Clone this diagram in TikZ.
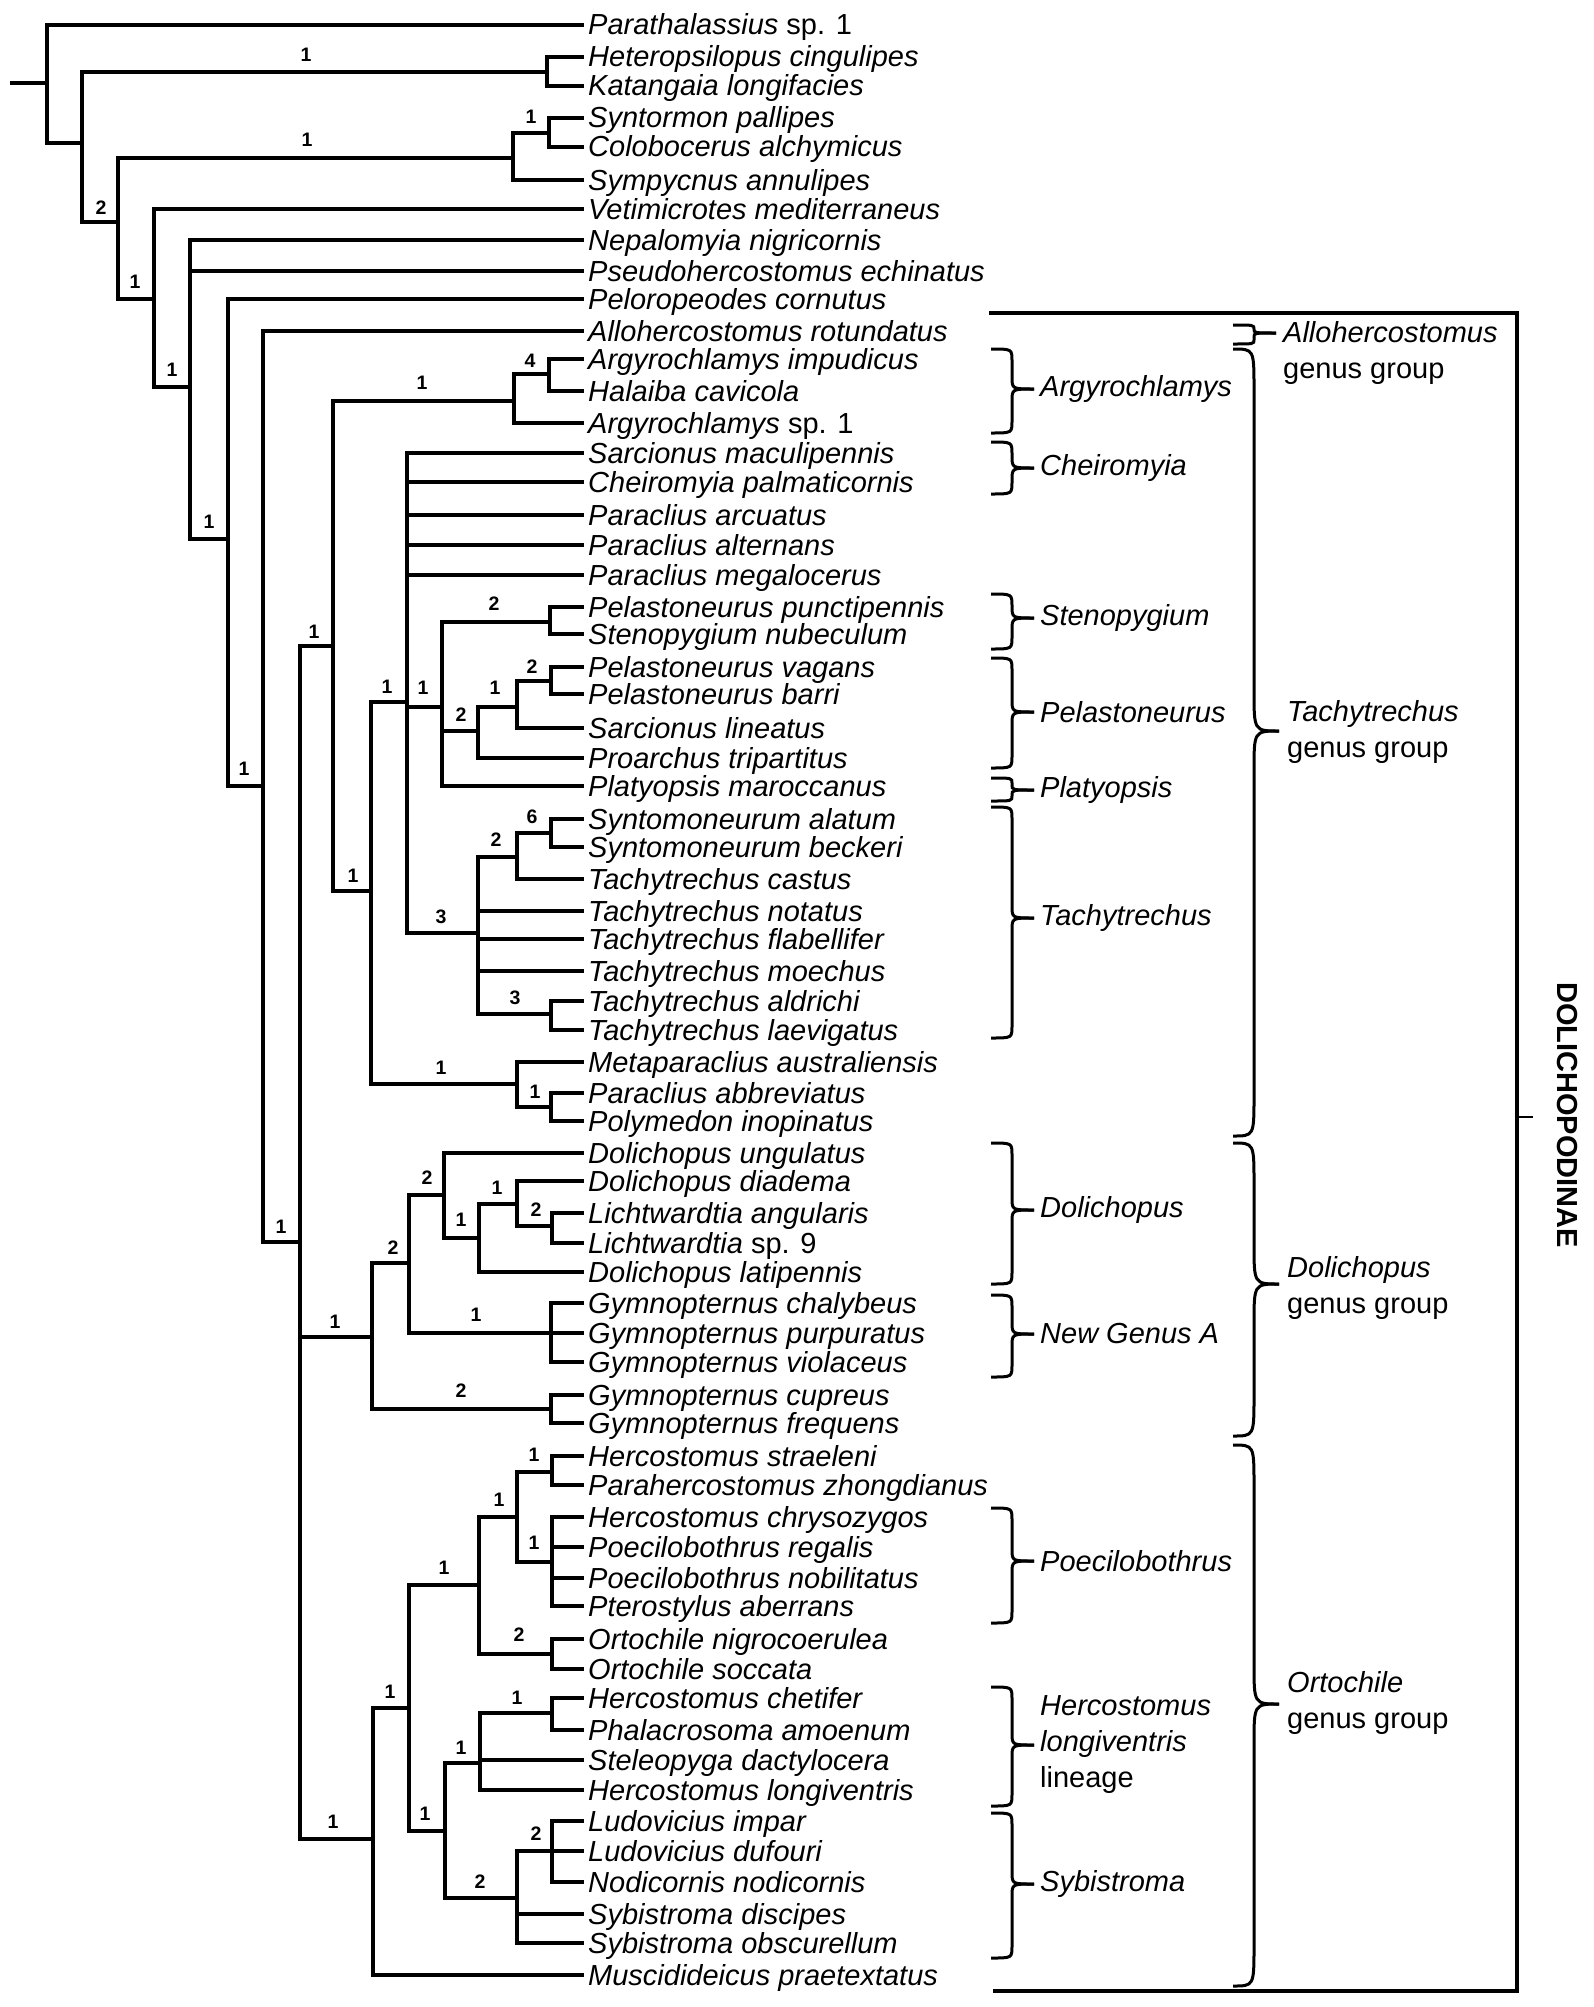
\documentclass[tikz,border=0pt]{standalone}
\usepackage{fontspec}
\setmainfont{Liberation Sans}

% 花括号: 样式, 左端x, 竖线x, 尖端x, 上端y, 尖端y, 下端y, 弯曲长度
\newcommand{\clbrace}[8]{%
  \draw[#1] (#2,#5) .. controls (#3,#5) .. (#3,{#5+#8}) -- (#3,{#6-#8}) .. controls (#3,#6) .. (#4,#6);
  \draw[#1] (#2,#7) .. controls (#3,#7) .. (#3,{#7-#8}) -- (#3,{#6+#8}) .. controls (#3,#6) .. (#4,#6);
}

\begin{document}
\begin{tikzpicture}[x=1pt, y=-1pt,
    branch/.style={line width=3.5pt},
    taxon/.style={anchor=west, inner xsep=4pt, inner ysep=0pt, text height=22pt, text depth=2pt,
        font=\fontsize{29}{34}\selectfont\itshape},
    supp/.style={inner sep=0pt, font=\fontsize{19.5}{19.5}\selectfont\bfseries},
    grp/.style={anchor=west, inner sep=0pt, align=left, font=\fontsize{29}{36}\selectfont},
    brk/.style={line width=3pt}]

    \useasboundingbox (0,0) rectangle (1594,2007);

    % 1. 物种名 (叶节点)
    \node[taxon] (t0) at (584,25) {Parathalassius \textup{sp. 1}};
    \node[taxon] (t1) at (584,57) {Heteropsilopus cingulipes};
    \node[taxon] (t2) at (584,86) {Katangaia longifacies};
    \node[taxon] (t3) at (584,118) {Syntormon pallipes};
    \node[taxon] (t4) at (584,147) {Colobocerus alchymicus};
    \node[taxon] (t5) at (584,180) {Sympycnus annulipes};
    \node[taxon] (t6) at (584,209) {Vetimicrotes mediterraneus};
    \node[taxon] (t7) at (584,240) {Nepalomyia nigricornis};
    \node[taxon] (t8) at (584,271) {Pseudohercostomus echinatus};
    \node[taxon] (t9) at (584,299) {Peloropeodes cornutus};
    \node[taxon] (t10) at (584,331) {Allohercostomus rotundatus};
    \node[taxon] (t11) at (584,359) {Argyrochlamys impudicus};
    \node[taxon] (t12) at (584,391) {Halaiba cavicola};
    \node[taxon] (t13) at (584,423) {Argyrochlamys \textup{sp. 1}};
    \node[taxon] (t14) at (584,453) {Sarcionus maculipennis};
    \node[taxon] (t15) at (584,482) {Cheiromyia palmaticornis};
    \node[taxon] (t16) at (584,515) {Paraclius arcuatus};
    \node[taxon] (t17) at (584,545) {Paraclius alternans};
    \node[taxon] (t18) at (584,575) {Paraclius megalocerus};
    \node[taxon] (t19) at (584,607) {Pelastoneurus punctipennis};
    \node[taxon] (t20) at (584,634) {Stenopygium nubeculum};
    \node[taxon] (t21) at (584,667) {Pelastoneurus vagans};
    \node[taxon] (t22) at (584,694) {Pelastoneurus barri};
    \node[taxon] (t23) at (584,728) {Sarcionus lineatus};
    \node[taxon] (t24) at (584,758) {Proarchus tripartitus};
    \node[taxon] (t25) at (584,786) {Platyopsis maroccanus};
    \node[taxon] (t26) at (584,819) {Syntomoneurum alatum};
    \node[taxon] (t27) at (584,847) {Syntomoneurum beckeri};
    \node[taxon] (t28) at (584,879) {Tachytrechus castus};
    \node[taxon] (t29) at (584,911) {Tachytrechus notatus};
    \node[taxon] (t30) at (584,939) {Tachytrechus flabellifer};
    \node[taxon] (t31) at (584,971) {Tachytrechus moechus};
    \node[taxon] (t32) at (584,1001) {Tachytrechus aldrichi};
    \node[taxon] (t33) at (584,1030) {Tachytrechus laevigatus};
    \node[taxon] (t34) at (584,1062) {Metaparaclius australiensis};
    \node[taxon] (t35) at (584,1093) {Paraclius abbreviatus};
    \node[taxon] (t36) at (584,1121) {Polymedon inopinatus};
    \node[taxon] (t37) at (584,1153) {Dolichopus ungulatus};
    \node[taxon] (t38) at (584,1181) {Dolichopus diadema};
    \node[taxon] (t39) at (584,1213) {Lichtwardtia angularis};
    \node[taxon] (t40) at (584,1243) {Lichtwardtia \textup{sp. 9}};
    \node[taxon] (t41) at (584,1272) {Dolichopus latipennis};
    \node[taxon] (t42) at (584,1303) {Gymnopternus chalybeus};
    \node[taxon] (t43) at (584,1333) {Gymnopternus purpuratus};
    \node[taxon] (t44) at (584,1362) {Gymnopternus violaceus};
    \node[taxon] (t45) at (584,1395) {Gymnopternus cupreus};
    \node[taxon] (t46) at (584,1423) {Gymnopternus frequens};
    \node[taxon] (t47) at (584,1456) {Hercostomus straeleni};
    \node[taxon] (t48) at (584,1485) {Parahercostomus zhongdianus};
    \node[taxon] (t49) at (584,1517) {Hercostomus chrysozygos};
    \node[taxon] (t50) at (584,1547) {Poecilobothrus regalis};
    \node[taxon] (t51) at (584,1578) {Poecilobothrus nobilitatus};
    \node[taxon] (t52) at (584,1606) {Pterostylus aberrans};
    \node[taxon] (t53) at (584,1639) {Ortochile nigrocoerulea};
    \node[taxon] (t54) at (584,1669) {Ortochile soccata};
    \node[taxon] (t55) at (584,1698) {Hercostomus chetifer};
    \node[taxon] (t56) at (584,1730) {Phalacrosoma amoenum};
    \node[taxon] (t57) at (584,1760) {Steleopyga dactylocera};
    \node[taxon] (t58) at (584,1790) {Hercostomus longiventris};
    \node[taxon] (t59) at (584,1821) {Ludovicius impar};
    \node[taxon] (t60) at (584,1851) {Ludovicius dufouri};
    \node[taxon] (t61) at (584,1882) {Nodicornis nodicornis};
    \node[taxon] (t62) at (584,1914) {Sybistroma discipes};
    \node[taxon] (t63) at (584,1943) {Sybistroma obscurellum};
    \node[taxon] (t64) at (584,1975) {Muscidideicus praetextatus};

    % 2. 内部节点
    \coordinate (stub) at (10,83);
    \coordinate (r0) at (47,83);
    \coordinate (n1) at (82,143);
    \coordinate (n2) at (547,72);
    \coordinate (n3) at (118,222);
    \coordinate (n4) at (513,158);
    \coordinate (n5) at (154,299);
    \coordinate (n6) at (549,133);
    \coordinate (n7) at (190,387);
    \coordinate (n8) at (228,539);
    \coordinate (n9) at (263,786);
    \coordinate (n10) at (300,1242);
    \coordinate (n11) at (333,646);
    \coordinate (n12) at (514,401);
    \coordinate (n13) at (549,374);
    \coordinate (n14) at (371,891);
    \coordinate (n15) at (407,702);
    \coordinate (n16) at (442,707);
    \coordinate (n17) at (550,622);
    \coordinate (n18) at (478,731);
    \coordinate (n19) at (517,707);
    \coordinate (n19a) at (551,681);
    \coordinate (n20) at (478,933);
    \coordinate (n21) at (517,857);
    \coordinate (n22) at (551,833);
    \coordinate (n23) at (551,1014);
    \coordinate (n25) at (517,1084);
    \coordinate (n26) at (551,1107);
    \coordinate (n30) at (372,1337);
    \coordinate (n31) at (409,1263);
    \coordinate (n32) at (444,1195);
    \coordinate (n33) at (479,1238);
    \coordinate (n34) at (517,1204);
    \coordinate (n34a) at (552,1226);
    \coordinate (n35) at (551,1333);
    \coordinate (n36) at (551,1409);
    \coordinate (n40) at (373,1839);
    \coordinate (n41) at (409,1708);
    \coordinate (n42) at (479,1585);
    \coordinate (n43) at (517,1517);
    \coordinate (n44a) at (552,1472);
    \coordinate (n44b) at (552,1562);
    \coordinate (n45) at (552,1654);
    \coordinate (n46) at (445,1831);
    \coordinate (n47) at (480,1763);
    \coordinate (n47a) at (552,1713);
    \coordinate (n48) at (517,1898);
    \coordinate (n48a) at (552,1851);

    % 3. 分支
    \draw[branch] (stub) -- (r0);
    \draw[branch] (r0) |- (t0);  \draw[branch] (r0) |- (n1);
    \draw[branch] (n1) |- (n2);  \draw[branch] (n1) |- (n3);
    \draw[branch] (n2) |- (t1);  \draw[branch] (n2) |- (t2);
    \draw[branch] (n3) |- (n4);  \draw[branch] (n3) |- (n5);
    \draw[branch] (n4) |- (n6);  \draw[branch] (n4) |- (t5);
    \draw[branch] (n6) |- (t3);  \draw[branch] (n6) |- (t4);
    \draw[branch] (n5) |- (t6);  \draw[branch] (n5) |- (n7);
    \draw[branch] (n7) |- (t7);  \draw[branch] (n7) |- (t8);  \draw[branch] (n7) |- (n8);
    \draw[branch] (n8) |- (t9);  \draw[branch] (n8) |- (n9);
    \draw[branch] (n9) |- (t10); \draw[branch] (n9) |- (n10);
    \draw[branch] (n10) |- (n11); \draw[branch] (n10) |- (n30); \draw[branch] (n10) |- (n40);
    \draw[branch] (n11) |- (n12); \draw[branch] (n11) |- (n14);
    \draw[branch] (n12) |- (n13); \draw[branch] (n12) |- (t13);
    \draw[branch] (n13) |- (t11); \draw[branch] (n13) |- (t12);
    \draw[branch] (n14) |- (n15); \draw[branch] (n14) |- (n25);
    \draw[branch] (n15) |- (t14); \draw[branch] (n15) |- (t15); \draw[branch] (n15) |- (t16);
    \draw[branch] (n15) |- (t17); \draw[branch] (n15) |- (t18);
    \draw[branch] (n15) |- (n16); \draw[branch] (n15) |- (n20);
    \draw[branch] (n16) |- (n17); \draw[branch] (n16) |- (n18); \draw[branch] (n16) |- (t25);
    \draw[branch] (n17) |- (t19); \draw[branch] (n17) |- (t20);
    \draw[branch] (n18) |- (n19); \draw[branch] (n18) |- (t24);
    \draw[branch] (n19) |- (n19a); \draw[branch] (n19) |- (t23);
    \draw[branch] (n19a) |- (t21); \draw[branch] (n19a) |- (t22);
    \draw[branch] (n20) |- (n21); \draw[branch] (n20) |- (t29); \draw[branch] (n20) |- (t30);
    \draw[branch] (n20) |- (t31); \draw[branch] (n20) |- (n23);
    \draw[branch] (n21) |- (n22); \draw[branch] (n21) |- (t28);
    \draw[branch] (n22) |- (t26); \draw[branch] (n22) |- (t27);
    \draw[branch] (n23) |- (t32); \draw[branch] (n23) |- (t33);
    \draw[branch] (n25) |- (t34); \draw[branch] (n25) |- (n26);
    \draw[branch] (n26) |- (t35); \draw[branch] (n26) |- (t36);
    \draw[branch] (n30) |- (n31); \draw[branch] (n30) |- (n36);
    \draw[branch] (n31) |- (n32); \draw[branch] (n31) |- (n35);
    \draw[branch] (n32) |- (t37); \draw[branch] (n32) |- (n33);
    \draw[branch] (n33) |- (n34); \draw[branch] (n33) |- (t41);
    \draw[branch] (n34) |- (t38); \draw[branch] (n34) |- (n34a);
    \draw[branch] (n34a) |- (t39); \draw[branch] (n34a) |- (t40);
    \draw[branch] (n35) |- (t42); \draw[branch] (n35) |- (t43); \draw[branch] (n35) |- (t44);
    \draw[branch] (n36) |- (t45); \draw[branch] (n36) |- (t46);
    \draw[branch] (n40) |- (n41); \draw[branch] (n40) |- (t64);
    \draw[branch] (n41) |- (n42); \draw[branch] (n41) |- (n46);
    \draw[branch] (n42) |- (n43); \draw[branch] (n42) |- (n45);
    \draw[branch] (n43) |- (n44a); \draw[branch] (n43) |- (n44b);
    \draw[branch] (n44a) |- (t47); \draw[branch] (n44a) |- (t48);
    \draw[branch] (n44b) |- (t49); \draw[branch] (n44b) |- (t50);
    \draw[branch] (n44b) |- (t51); \draw[branch] (n44b) |- (t52);
    \draw[branch] (n45) |- (t53); \draw[branch] (n45) |- (t54);
    \draw[branch] (n46) |- (n47); \draw[branch] (n46) |- (n48);
    \draw[branch] (n47) |- (n47a); \draw[branch] (n47) |- (t57); \draw[branch] (n47) |- (t58);
    \draw[branch] (n47a) |- (t55); \draw[branch] (n47a) |- (t56);
    \draw[branch] (n48) |- (n48a); \draw[branch] (n48) |- (t62); \draw[branch] (n48) |- (t63);
    \draw[branch] (n48a) |- (t59); \draw[branch] (n48a) |- (t60); \draw[branch] (n48a) |- (t61);

    % 4. 支持度数值
    \node[supp] (s2) at (306,55) {1};
    \node[supp] (s3) at (101,208) {2};
    \node[supp] (s4) at (307,140) {1};
    \node[supp] (s6) at (531,117) {1};
    \node[supp] (s5) at (135,282) {1};
    \node[supp] (s7) at (172,370) {1};
    \node[supp] (s8) at (209,522) {1};
    \node[supp] (s9) at (244,769) {1};
    \node[supp] (s10) at (281,1227) {1};
    \node[supp] (s11) at (314,632) {1};
    \node[supp] (s12) at (422,383) {1};
    \node[supp] (s13) at (530,361) {4};
    \node[supp] (s14) at (353,876) {1};
    \node[supp] (s15) at (387,687) {1};
    \node[supp] (s16) at (423,688) {1};
    \node[supp] (s17) at (494,604) {2};
    \node[supp] (s18) at (461,715) {2};
    \node[supp] (s19) at (495,688) {1};
    \node[supp] (s19a) at (532,667) {2};
    \node[supp] (s20) at (441,917) {3};
    \node[supp] (s21) at (496,840) {2};
    \node[supp] (s22) at (532,817) {6};
    \node[supp] (s23) at (515,998) {3};
    \node[supp] (s25) at (441,1068) {1};
    \node[supp] (s26) at (535,1092) {1};
    \node[supp] (s30) at (335,1322) {1};
    \node[supp] (s31) at (393,1248) {2};
    \node[supp] (s32) at (427,1178) {2};
    \node[supp] (s33) at (461,1220) {1};
    \node[supp] (s34) at (497,1188) {1};
    \node[supp] (s34a) at (536,1210) {2};
    \node[supp] (s35) at (476,1315) {1};
    \node[supp] (s36) at (461,1391) {2};
    \node[supp] (s40) at (333,1822) {1};
    \node[supp] (s41) at (390,1692) {1};
    \node[supp] (s42) at (444,1568) {1};
    \node[supp] (s43) at (499,1500) {1};
    \node[supp] (s44a) at (534,1455) {1};
    \node[supp] (s44b) at (534,1543) {1};
    \node[supp] (s45) at (519,1635) {2};
    \node[supp] (s46) at (425,1814) {1};
    \node[supp] (s47) at (461,1748) {1};
    \node[supp] (s47a) at (517,1698) {1};
    \node[supp] (s48) at (480,1882) {2};
    \node[supp] (s48a) at (536,1834) {2};

    % 5. 属的花括号
    \clbrace{brk}{991}{1012}{1034}{349}{389}{433}{12}
    \clbrace{brk}{991}{1012}{1034}{442}{468}{494}{12}
    \clbrace{brk}{991}{1012}{1034}{594}{618}{649}{12}
    \clbrace{brk}{991}{1012}{1034}{658}{712}{768}{12}
    \clbrace{brk}{991}{1012}{1034}{778}{790}{801}{5}
    \clbrace{brk}{991}{1012}{1034}{807}{918}{1038}{12}
    \clbrace{brk}{991}{1012}{1034}{1143}{1210}{1284}{12}
    \clbrace{brk}{991}{1012}{1034}{1295}{1334}{1377}{12}
    \clbrace{brk}{991}{1012}{1034}{1508}{1561}{1623}{12}
    \clbrace{brk}{991}{1012}{1034}{1687}{1745}{1806}{12}
    \clbrace{brk}{991}{1012}{1034}{1813}{1884}{1958}{12}

    \node[grp] (argy) at (1040,389) {\itshape Argyrochlamys};
    \node[grp] (cheiro) at (1040,468) {\itshape Cheiromyia};
    \node[grp] (steno) at (1040,618) {\itshape Stenopygium};
    \node[grp] (pelast) at (1040,712) {\itshape Pelastoneurus};
    \node[grp] (platy) at (1040,790) {\itshape Platyopsis};
    \node[grp] (tachy) at (1040,918) {\itshape Tachytrechus};
    \node[grp] (doli) at (1040,1210) {\itshape Dolichopus};
    \node[grp] (newgen) at (1040,1334) {\itshape New Genus A};
    \node[grp] (poec) at (1040,1561) {\itshape Poecilobothrus};
    \node[grp] (hlong) at (1040,1745) {\itshape Hercostomus\\\itshape longiventris\\lineage};
    \node[grp] (sybi) at (1040,1884) {\itshape Sybistroma};

    % 6. 属组的大括号
    \clbrace{brk}{1233}{1254}{1276}{325}{333}{344}{4}
    \clbrace{brk}{1233}{1254}{1279}{349}{731}{1136}{40}
    \clbrace{brk}{1233}{1254}{1279}{1143}{1284}{1436}{40}
    \clbrace{brk}{1233}{1254}{1279}{1445}{1704}{1986}{40}

    \node[grp, anchor=north west] (allogg) at (1283,321) {\itshape Allohercostomus\\genus group};
    \node[grp] (tachygg) at (1287,732) {\itshape Tachytrechus\\genus group};
    \node[grp] (doligg) at (1287,1288) {\itshape Dolichopus\\genus group};
    \node[grp] (ortogg) at (1287,1703) {\itshape Ortochile\\genus group};

    % 7. 亚科的方括号
    \coordinate (dtop) at (989,313);
    \coordinate (dbot) at (993,1991);
    \coordinate (dtick) at (1533,1117);
    \draw[line width=3.2pt] (dtop) -- (1517,313) -- (1517,1991) -- (dbot);
    \draw[line width=2.6pt] (1517,1117) -- (dtick);
    \node[rotate=-90, inner sep=0pt, font=\fontsize{29}{29}\selectfont\bfseries] (dolich) at (1567,1115) {DOLICHOPODINAE};

\end{tikzpicture}
\end{document}
